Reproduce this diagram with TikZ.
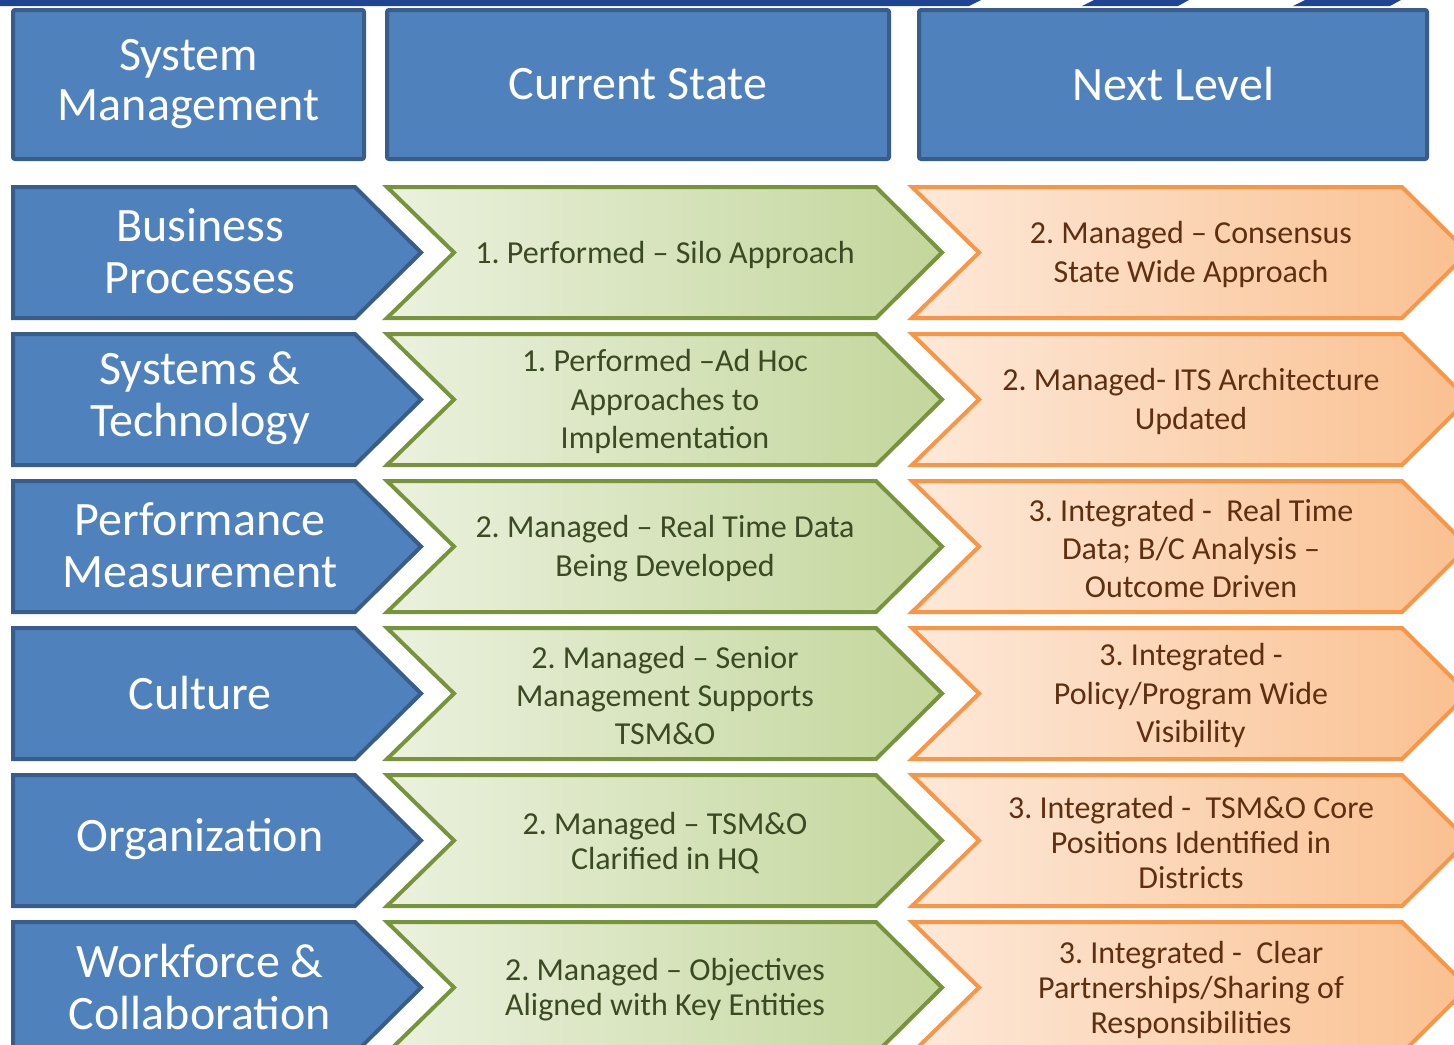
\documentclass[tikz,border=0pt]{standalone}
\usepackage{fontspec}
\setmainfont{Carlito}
\frenchspacing

\definecolor{stripblue}{HTML}{1F4494}
\definecolor{boxblue}{HTML}{4F81BD}
\definecolor{boxline}{HTML}{385D8A}
\definecolor{curline}{HTML}{77933C}
\definecolor{curlight}{HTML}{EBF1DE}
\definecolor{curdark}{HTML}{C3D69B}
\definecolor{curtext}{HTML}{3B4A23}
\definecolor{nxtline}{HTML}{F79646}
\definecolor{nxtlight}{HTML}{FDE9D9}
\definecolor{nxtdark}{HTML}{FAC090}
\definecolor{nxttext}{HTML}{5E2F10}

\tikzset{
  header/.style={draw=boxline, fill=boxblue, line width=2pt, rounded corners=1pt,
    text=white, align=center, font=\fontsize{24}{25}\selectfont},
  areaarrow/.style={draw=boxline, fill=boxblue, line width=2pt},
  curchevron/.style={draw=curline, left color=curlight, right color=curdark, line width=2pt},
  nxtchevron/.style={draw=nxtline, left color=nxtlight, right color=nxtdark, line width=2pt},
  areatext/.style={text=white, align=center, font=\fontsize{24}{26}\selectfont},
}

\begin{document}
\begin{tikzpicture}[x=0.5pt, y=-0.5pt, line join=miter]
  \useasboundingbox (0,0) rectangle (1454,1044);
  \clip (0,0) rectangle (1454,1044);

  % thin band along the top edge
  \fill[stripblue] (0,0) -- (981,0) -- (969,6) -- (0,6) -- cycle;
  \fill[stripblue] (1094,0) -- (1189,0) -- (1178,6) -- (1082,6) -- cycle;
  \fill[stripblue] (1305,0) -- (1401,0) -- (1390,6) -- (1293,6) -- cycle;

  % column headers
  \node[header, minimum width=175.5pt, minimum height=74.5pt] (sys) at (188.5,84.5) {System\\Management};
  \node[header, minimum width=251pt, minimum height=74.5pt] (cur) at (638,84.5) {Current State};
  \node[header, minimum width=254pt, minimum height=74.5pt] (nxt) at (1173,84.5) {Next Level};

  % one row per area: blue arrow, green chevron (current), orange chevron (next)
  \foreach \arealabel/\curlabel/\nxtlabel/\gap [count=\i] in {
    {Business\\Processes}/{1. Performed – Silo Approach}/{2. Managed – Consensus\\State Wide Approach}/19.2,
    {Systems \&\\Technology}/{1. Performed –Ad Hoc\\Approaches to\\Implementation}/{2. Managed- ITS Architecture\\Updated}/19.2,
    {Performance\\Measurement}/{2. Managed – Real Time Data\\Being Developed}/{3. Integrated - \ Real Time\\Data; B/C Analysis –\\Outcome Driven}/19.2,
    {Culture}/{2. Managed – Senior\\Management Supports\\TSM\&O}/{3. Integrated -\\Policy/Program Wide\\Visibility}/19.2,
    {Organization}/{2. Managed – TSM\&O\\Clarified in HQ}/{3. Integrated - \ TSM\&O Core\\Positions Identified in\\Districts}/17.5,
    {Workforce \&\\Collaboration}/{2. Managed – Objectives\\Aligned with Key Entities}/{3. Integrated - \ Clear\\Partnerships/Sharing of\\Responsibilities}/17.5}
  {
    \pgfmathsetmacro\rowtop{187+147*(\i-1)}
    \draw[areaarrow] (13,\rowtop) -- (355,\rowtop) -- (421,\rowtop+65.5) -- (355,\rowtop+131) -- (13,\rowtop+131) -- cycle;
    \draw[curchevron] (387,\rowtop) -- (876,\rowtop) -- (942,\rowtop+65.5) -- (876,\rowtop+131) -- (387,\rowtop+131) -- (454,\rowtop+65.5) -- cycle;
    \draw[nxtchevron] (912,\rowtop) -- (1402,\rowtop) -- (1468,\rowtop+65.5) -- (1402,\rowtop+131) -- (912,\rowtop+131) -- (979,\rowtop+65.5) -- cycle;
    \node[areatext] (area\i) at (200,\rowtop+64.5) {\arealabel};
    \node[align=center, text=curtext, font=\fontsize{16}{\gap}\selectfont] (now\i) at (665,\rowtop+67.5) {\curlabel};
    \node[align=center, text=nxttext, font=\fontsize{16}{\gap}\selectfont] (next\i) at (1191,\rowtop+67.5) {\nxtlabel};
  }
\end{tikzpicture}
\end{document}
